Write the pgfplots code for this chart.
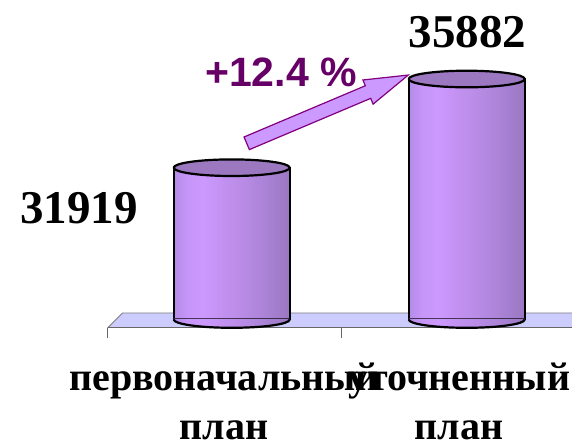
\documentclass[border=0pt]{standalone}
\usepackage{fontspec}
\setmainfont{Liberation Serif}
\newfontfamily\arialfont{Liberation Sans}
\usepackage{pgfplots}
\pgfplotsset{compat=1.18}

\definecolor{cylA}{HTML}{B58AE8}
\definecolor{cylB}{HTML}{C696F8}
\definecolor{cylC}{HTML}{CC99FF}
\definecolor{cylD}{HTML}{C492F2}
\definecolor{cylE}{HTML}{B88BE5}
\definecolor{cylF}{HTML}{A982D5}
\definecolor{cylG}{HTML}{9A77C2}
\definecolor{topcol}{HTML}{9B78C0}
\definecolor{floorcol}{HTML}{CCCCFF}
\definecolor{arrowfill}{HTML}{CC99FF}
\definecolor{arrowline}{HTML}{800080}
\definecolor{pcttext}{HTML}{660066}

% vertical stripes across the cylinder body (path is mapped onto 25bp..75bp)
\pgfdeclarehorizontalshading{cyl}{100bp}{color(0bp)=(cylA); color(25bp)=(cylA);
  color(31bp)=(cylB); color(37.5bp)=(cylC); color(45bp)=(cylD);
  color(55bp)=(cylE); color(65bp)=(cylF); color(75bp)=(cylG); color(100bp)=(cylG)}

% top of a cylinder
\pgfdeclareplotmark{cyltop}{%
  \pgfpathellipse{\pgfpointorigin}{\pgfqpoint{58bp}{0pt}}{\pgfqpoint{0pt}{8.3bp}}%
  \pgfusepathqfillstroke}
% front half of the bottom rim
\pgfdeclareplotmark{cylbot}{%
  \pgfpathmoveto{\pgfqpoint{-58bp}{1bp}}%
  \pgfpathlineto{\pgfqpoint{-58bp}{0bp}}%
  \pgfpatharc{180}{360}{58bp and 8.3bp}%
  \pgfpathlineto{\pgfqpoint{58bp}{1bp}}%
  \pgfpathclose
  \pgfshadepath{cyl}{0}%
  \pgfusepath{}%
  \pgfpathmoveto{\pgfqpoint{-58bp}{0bp}}%
  \pgfpatharc{180}{360}{58bp and 8.3bp}%
  \pgfusepathqstroke}

\newcommand\numfont{\fontsize{47bp}{56bp}\selectfont\bfseries}
\newcommand\labfont{\fontsize{40bp}{49bp}\selectfont\bfseries}

\pgfplotsset{cylbody/.style={ybar, bar width=116bp, bar shift=0pt, draw=black,
    line width=2.2bp, shade, shading=cyl}}

\begin{document}
\begin{tikzpicture}
\path[use as bounding box] (0,0) rectangle (572bp,446bp);
\clip (0,0) rectangle (572bp,446bp);

% floor
\fill[floorcol] (107.5bp,118bp) -- (122.5bp,133bp) -- (600bp,133bp) -- (600bp,118bp) -- cycle;
\draw[gray, line width=0.8bp] (107.5bp,118bp) -- (122.5bp,133bp) -- (600bp,133bp);
\draw[black!60, line width=1bp] (107.5bp,118bp) -- (600bp,118bp);
\draw[black!60, line width=1bp] (107.5bp,118bp) -- (107.5bp,108bp);
\draw[black!60, line width=1bp] (341bp,118bp) -- (341bp,108bp);

\begin{axis}[
    at={(114.2bp,126.5bp)}, anchor=south west,
    scale only axis, width=470bp, height=300bp,
    xmin=-0.5, xmax=1.5, ymin=25137, ymax=38541,
    hide y axis,
    axis x line*=bottom,
    x axis line style={draw=none},
    major tick length=0pt,
    xtick={0,1},
    xticklabels={{первоначальный\\план},{уточненный\\план}},
    xticklabel style={align=center, font=\labfont, inner sep=0pt,
        anchor=north, xshift=-7.5bp, yshift=-43bp},
]
% one plot per bar, so that each bar gets its own shading
\addplot[cylbody] coordinates {(0,31919)};
\addplot[cylbody] coordinates {(1,35882)};
\addplot[only marks, mark=cylbot, mark options={draw=black, line width=2.2bp}]
    coordinates {(0,25137) (1,25137)};
\addplot[only marks, mark=cyltop,
    mark options={draw=black, fill=topcol, line width=2.2bp, line join=round}]
    coordinates {(0,31919) (1,35882)};

\addplot[draw=none, mark=none, nodes near coords, point meta=explicit symbolic,
    nodes near coords style={font=\numfont, anchor=base, inner sep=0pt,
        xshift=-152.7bp, yshift=-55.3bp}]
    coordinates {(0,31919) [31919]};
\addplot[draw=none, mark=none, nodes near coords, point meta=explicit symbolic,
    nodes near coords style={font=\numfont, anchor=base, inner sep=0pt,
        xshift=0.8bp, yshift=32bp}]
    coordinates {(1,35882) [35882]};
\end{axis}

% growth arrow
\draw[shift={(246.7bp,302.7bp)}, rotate=22.9, fill=arrowfill, draw=arrowline,
    line width=1.2bp]
    (0,-6.85bp) -- (131.7bp,-6.85bp) -- (131.7bp,-13.1bp) -- (175.4bp,0)
    -- (131.7bp,13.1bp) -- (131.7bp,6.85bp) -- (0,6.85bp) -- cycle;
\node[font={\fontsize{41bp}{41bp}\arialfont\bfseries}, text=pcttext,
    anchor=base, inner sep=0pt] at (281bp,359bp) {+12.4 \%};
\end{tikzpicture}
\end{document}
